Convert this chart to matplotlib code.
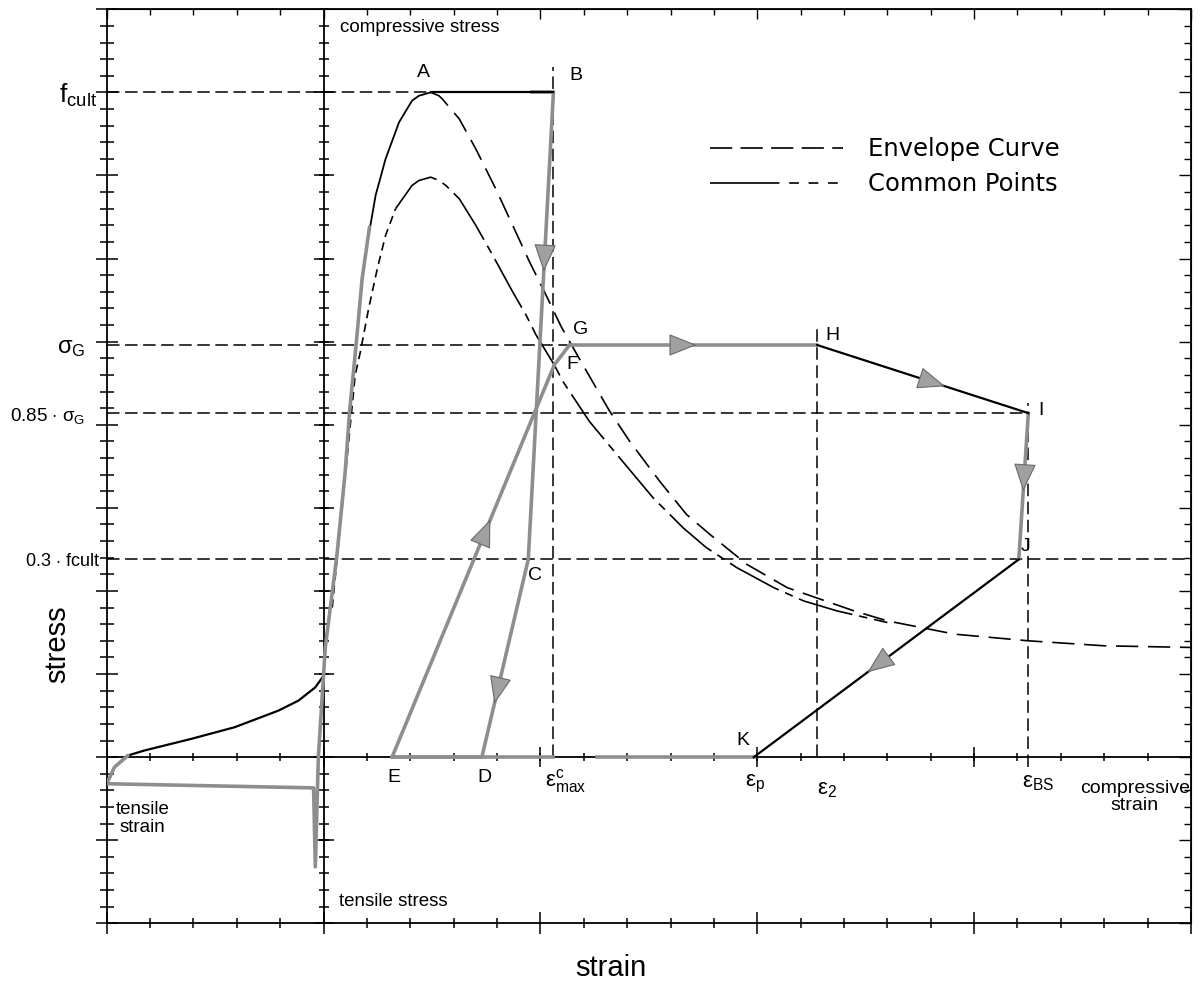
import numpy as np
import matplotlib
matplotlib.use("Agg")
import matplotlib.pyplot as plt
import matplotlib.transforms as mtransforms
from matplotlib.lines import Line2D
from matplotlib.ticker import MultipleLocator, NullFormatter

plt.rcParams['font.family'] = ['Liberation Sans', 'DejaVu Sans']
plt.rcParams['mathtext.fontset'] = 'custom'
plt.rcParams['mathtext.rm'] = 'Liberation Sans'
plt.rcParams['mathtext.it'] = 'Liberation Sans:italic'
plt.rcParams['mathtext.bf'] = 'Liberation Sans:bold'
plt.rcParams['lines.scale_dashes'] = False

# ---------------- data (strain and stress in tick units; f_cult = 40 ticks) ----------------
F_CULT = 40.0
SIGMA_G = 24.8
SIGMA_G_085 = 20.7
F_CULT_03 = 11.9

EPS_E = 1.58
EPS_D = 3.65
EPS_MAX = 5.30
EPS_P = 9.92
EPS_2 = 11.38
EPS_BS = 16.25

X_RANGE = [-5, 20]
Y_RANGE = [-10, 45]

# envelope curve (rising part solid, falling part long dashes)
env_rise_x = [1.04, 1.20, 1.43, 1.74, 2.04, 2.20, 2.47]
env_rise_y = [31.4, 33.8, 36.0, 38.2, 39.5, 39.8, 40.0]
env_fall_x = [2.47, 2.66, 2.74, 3.13, 3.51, 3.97, 4.36, 4.75, 5.13, 5.48, 5.98, 6.60, 7.06,
              7.75, 8.37, 8.91, 9.76, 10.69, 11.46, 12.23, 13.00, 14.55, 16.25, 18.00, 20.00]
env_fall_y = [40.0, 39.8, 39.6, 38.4, 36.6, 34.2, 32.0, 29.8, 27.8, 25.9, 23.6, 20.8, 19.0,
              16.6, 14.6, 13.4, 11.6, 10.2, 9.5, 8.8, 8.2, 7.4, 7.0, 6.7, 6.6]

# common points curve
cp_rise_x = [0.20, 0.45, 0.73, 0.85, 1.04, 1.24, 1.43, 1.66]
cp_rise_y = [9.0, 15.6, 23.0, 24.4, 27.0, 29.4, 31.4, 33.0]
cp_fall_x = [1.66, 2.04, 2.20, 2.47, 2.66, 2.82, 3.13, 3.51, 3.90, 4.36, 4.67, 4.90, 5.32, 5.52,
             6.13, 6.83, 7.60, 8.29, 8.83, 9.53, 10.38, 11.07, 11.84, 13.00]
cp_fall_y = [33.0, 34.4, 34.7, 34.9, 34.7, 34.4, 33.6, 32.0, 30.2, 28.0, 26.6, 25.4, 23.6, 22.6,
             20.2, 18.0, 15.6, 13.8, 12.6, 11.4, 10.2, 9.4, 8.8, 8.1]

# tensile branch (black curve)
tens_x = [-4.51, -4.13, -3.05, -2.05, -1.04, -0.58, -0.19, 0.0]
tens_y = [0.1, 0.4, 1.1, 1.8, 2.8, 3.4, 4.2, 4.9]

# gray loading history up to the envelope
hist_x = [-4.51, -4.82, -5.0, -0.23, -0.19, -0.12, 0.04, 0.31, 0.50, 0.60, 0.75, 0.89, 1.06]
hist_y = [0.1, -0.6, -1.6, -1.85, -6.6, 0.0, 6.6, 12.2, 17.2, 20.8, 24.8, 28.8, 31.9]

# cyclic path points
path_names = ['A', 'B', 'C', 'D', 'E', 'F', 'G', 'H', 'I', 'J', 'K']
path_x = [2.47, EPS_MAX, 4.72, EPS_D, EPS_E, 5.32, 5.67, EPS_2, EPS_BS, 16.03, EPS_P]
path_y = [F_CULT, F_CULT, F_CULT_03, 0.0, 0.0, 23.6, SIGMA_G, SIGMA_G, SIGMA_G_085, F_CULT_03, 0.0]
seg_colors = ['black', 'gray', 'gray', 'gray', 'gray', 'gray', 'gray', 'black', 'gray', 'black']
AB_GRAY_FROM = 4.8
ZERO_GRAY = [(EPS_E, EPS_MAX), (6.3, EPS_P)]
# arrows: (from, to, fraction of tip position)
arrow_specs = [('B', 'C', 0.384), ('C', 'D', 0.73), ('E', 'F', 0.606), ('G', 'H', 0.513),
               ('H', 'I', 0.606), ('I', 'J', 0.534), ('J', 'K', 0.571)]

# ---------------- figure ----------------
GRAY = '#8e8e8e'
fig = plt.figure(figsize=(12.03, 10.01), dpi=100)
ax = fig.add_axes([0.0887, 0.0776, 0.9013, 0.9131])
ax.set_xlim(*X_RANGE)
ax.set_ylim(*Y_RANGE)
for s in ax.spines.values():
    s.set_linewidth(1.3)

ax.xaxis.set_major_locator(MultipleLocator(5))
ax.xaxis.set_minor_locator(MultipleLocator(1))
ax.yaxis.set_major_locator(MultipleLocator(5))
ax.yaxis.set_minor_locator(MultipleLocator(1))
ax.tick_params(axis='both', which='both', direction='inout', width=1.1,
               labelbottom=False, labelleft=False, top=False, right=False)
ax.tick_params(axis='x', which='major', length=16)
ax.tick_params(axis='x', which='minor', length=7)
ax.tick_params(axis='y', which='major', length=16)
ax.tick_params(axis='y', which='minor', length=9.5)

secx = ax.secondary_xaxis('top')
secx.xaxis.set_major_locator(MultipleLocator(5))
secx.xaxis.set_minor_locator(MultipleLocator(1))
secx.xaxis.set_major_formatter(NullFormatter())
secx.tick_params(which='major', direction='in', length=7, width=1.0)
secx.tick_params(which='minor', direction='in', length=4.5, width=1.0)
secy = ax.secondary_yaxis('right')
secy.yaxis.set_major_locator(MultipleLocator(5))
secy.yaxis.set_minor_locator(MultipleLocator(1))
secy.yaxis.set_major_formatter(NullFormatter())
secy.tick_params(which='major', direction='in', length=9, width=1.0)
secy.tick_params(which='minor', direction='in', length=5, width=1.0)

# inner axes (zero strain / zero stress)
ax.axvline(0, color='k', lw=1.3, zorder=2)
ax.axhline(0, color='k', lw=1.3, zorder=2)
ytk = np.arange(Y_RANGE[0], Y_RANGE[1] + 1)
xtk = np.arange(X_RANGE[0], X_RANGE[1] + 1)
ax.plot(np.zeros(len(ytk)), ytk, ls='none', marker='_', ms=7, mew=1.1, color='k', zorder=2, clip_on=False)
ax.plot(np.zeros(len(ytk[::5])), ytk[::5], ls='none', marker='_', ms=15, mew=1.1, color='k', zorder=2)
ax.plot(xtk, np.zeros(len(xtk)), ls='none', marker='|', ms=6, mew=1.1, color='k', zorder=2)
ax.plot(xtk[::5], np.zeros(len(xtk[::5])), ls='none', marker='|', ms=14, mew=1.1, color='k', zorder=2)

# dashed reference lines
REF = dict(color='k', lw=1.1, dashes=(9, 4), zorder=1)
P = {n: (x, y) for n, x, y in zip(path_names, path_x, path_y)}
ax.plot([X_RANGE[0], P['A'][0]], [F_CULT, F_CULT], **REF)
ax.plot([X_RANGE[0], P['G'][0]], [SIGMA_G, SIGMA_G], **REF)
ax.plot([X_RANGE[0], EPS_BS], [SIGMA_G_085, SIGMA_G_085], **REF)
ax.plot([X_RANGE[0], X_RANGE[1]], [F_CULT_03, F_CULT_03], **REF)
ax.plot([EPS_MAX, EPS_MAX], [0, 41.5], **REF)
ax.plot([EPS_2, EPS_2], [0, 25.8], **REF)
ax.plot([EPS_BS, EPS_BS], [-0.6, 21.3], **REF)

# curves
ax.plot(tens_x, tens_y, color='k', lw=1.6, zorder=3)
ax.plot(env_rise_x, env_rise_y, color='k', lw=1.3, zorder=3)
ax.plot(env_fall_x, env_fall_y, color='k', lw=1.2, dashes=(16, 7), zorder=3)
ax.plot(cp_rise_x, cp_rise_y, color='k', lw=1.2, dashes=(6, 4), zorder=3)
ax.plot(cp_fall_x, cp_fall_y, color='k', lw=1.2, dashes=(40, 5, 6, 5), zorder=3)

# gray loading history and cyclic path
ax.plot(hist_x, hist_y, color=GRAY, lw=2.6, zorder=4, solid_capstyle='round')
for (x0, x1) in ZERO_GRAY:
    ax.plot([x0, x1], [0, 0], color=GRAY, lw=2.6, zorder=4)
for i, c in enumerate(seg_colors):
    xs = [path_x[i], path_x[i + 1]]
    ys = [path_y[i], path_y[i + 1]]
    if c == 'gray':
        ax.plot(xs, ys, color=GRAY, lw=2.6, zorder=4, solid_capstyle='round')
    else:
        ax.plot(xs, ys, color='k', lw=1.6, zorder=5)
ax.plot([AB_GRAY_FROM, P['B'][0]], [F_CULT, F_CULT], color=GRAY, lw=2.6, zorder=4)

# arrow heads
inv = ax.transData.inverted()
for a, b, t in arrow_specs:
    p0 = np.array(P[a]); p1 = np.array(P[b])
    tip = p0 + t * (p1 - p0)
    d0 = ax.transData.transform(p0); d1 = ax.transData.transform(p1)
    u = (d1 - d0) / np.hypot(*(d1 - d0))
    base = inv.transform(ax.transData.transform(tip) - u * 26)
    ax.annotate('', xy=tip, xytext=base,
                arrowprops=dict(arrowstyle='-|>,head_length=0.9,head_width=0.36', mutation_scale=20,
                                fc='#a0a0a0', ec='#6a6a6a', lw=0.8, shrinkA=0, shrinkB=0),
                zorder=6)

# point labels
label_offsets = {'A': (-5, 14), 'B': (16, 12), 'C': (5, -11.5), 'D': (1.5, -15), 'E': (1.5, -15),
                 'F': (12.7, 0), 'G': (8, 11), 'H': (11, 7), 'I': (9, 2), 'J': (5, 9), 'K': (-8, 12)}
for n in path_names:
    ax.annotate(n, xy=P[n], xytext=label_offsets[n], textcoords='offset points',
                ha='center', va='center', fontsize=14, zorder=7)

# strain markers
eps_labels = [(EPS_MAX, r'$\mathrm{\varepsilon^{c}_{max}}$', (9, -17)),
              (EPS_P, r'$\mathrm{\varepsilon_{p}}$', (1, -19)),
              (EPS_2, r'$\mathrm{\varepsilon_{2}}$', (7, -23)),
              (EPS_BS, r'$\mathrm{\varepsilon_{BS}}$', (7, -18))]
for x, s, off in eps_labels:
    ax.annotate(s, xy=(x, 0), xytext=off, textcoords='offset points', ha='center', va='center',
                fontsize=16, zorder=7)

# stress level labels on the left
ytrans = mtransforms.blended_transform_factory(ax.transAxes, ax.transData)
ax.text(-0.009, F_CULT - 0.2, r'$\mathrm{f_{cult}}$', transform=ytrans, ha='right', va='center', fontsize=19)
ax.text(-0.02, SIGMA_G - 0.2, r'$\mathrm{\sigma_{G}}$', transform=ytrans, ha='right', va='center', fontsize=17)
ax.text(-0.02, SIGMA_G_085 - 0.2, r'0.85 $\cdot$ $\mathrm{\sigma_{G}}$', transform=ytrans, ha='right', va='center', fontsize=13.5)
ax.text(-0.006, F_CULT_03 - 0.1, r'0.3 $\cdot$ fcult', transform=ytrans, ha='right', va='center', fontsize=13)

# region annotations
ax.text(0.39, 43.9, 'compressive stress', ha='left', va='center', fontsize=13.5)
ax.text(0.35, -8.7, 'tensile stress', ha='left', va='center', fontsize=13.5)
ax.text(-4.8, -3.7, 'tensile\nstrain', ha='left', va='center', ma='center', fontsize=13.5, linespacing=1.1)
ax.text(0.999, -2.4, 'compressive\nstrain', transform=ytrans, ha='right', va='center', ma='center',
        fontsize=14, linespacing=1.05)

# axis titles
ax.set_xlabel('strain', fontsize=21)
ax.xaxis.set_label_coords(0.465, -0.034)
ax.set_ylabel('stress', fontsize=21)
ax.yaxis.set_label_coords(-0.033, 0.305)

# legend
h_env = Line2D([], [], color='k', lw=1.2, dashes=(16, 6))
h_cp = Line2D([], [], color='k', lw=1.2, dashes=(50, 7, 7, 7, 7, 7, 7, 60))
ax.legend([h_env, h_cp], ['Envelope Curve', 'Common Points'], loc='upper left',
          bbox_to_anchor=(0.556, 0.860), frameon=False, borderpad=0, borderaxespad=0,
          handlelength=5.5, handletextpad=1.0, labelspacing=0.45,
          prop={'family': 'DejaVu Sans', 'size': 17.5})

fig.savefig('out.png', dpi=100)
